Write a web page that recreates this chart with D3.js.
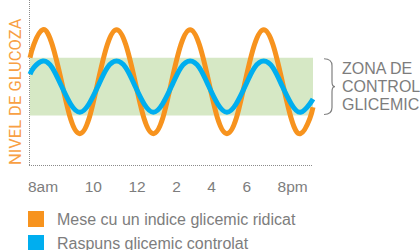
<!DOCTYPE html>
<html>
<head>
<meta charset="utf-8">
<script src="https://cdn.jsdelivr.net/npm/d3@7"></script>
<style>
  html, body { margin: 0; padding: 0; background: #fff; }
  svg { display: block; font-family: "Liberation Sans", Arial, Helvetica, sans-serif; }
</style>
</head>
<body>
<svg id="chart" width="420" height="250"></svg>
<script>
// hours of day (8 = 8am, 20 = 8pm)
const hours = [8.00, 8.16, 8.55, 8.94, 9.33, 9.72, 10.11, 10.50, 10.89, 11.28, 11.67,
  12.06, 12.45, 12.84, 13.23, 13.62, 14.01, 14.40, 14.79, 15.18, 15.57, 15.96,
  16.35, 16.74, 17.13, 17.52, 17.91, 18.30, 18.69, 19.08, 19.47, 19.86, 20.00];

// glucose level (arbitrary units 0-100)
const highGI = [65, 73, 82, 73, 51, 28, 19, 28, 51, 73, 82, 73, 51, 28, 19, 28, 51,
  73, 82, 73, 51, 28, 19, 28, 51, 73, 82, 73, 51, 28, 19, 28, 35];
const controlled = [55, 59, 63, 59, 48, 37, 32, 37, 48, 59, 63, 59, 48, 37, 32, 37, 48,
  59, 63, 59, 48, 37, 32, 37, 48, 59, 63, 59, 48, 37, 32, 37, 40];

const zone = [30, 65];
const tickLabels = ['8am', '10', '12', '2', '4', '6', '8pm'];
const seriesNames = ['Mese cu un indice glicemic ridicat', 'Raspuns glicemic controlat'];
const seriesColors = ['#f7931e', '#00aeef'];
const zoneLabel = ['ZONA DE', 'CONTROL', 'GLICEMIC'];
const yTitle = 'NIVEL DE GLUCOZA';

const textGrey = '#7d7d7d';
const svg = d3.select('#chart');
const plotLeft = 30, plotRight = 313, plotTop = 0, plotBottom = 165;

const x = d3.scaleLinear().domain([8, 20]).range([plotLeft, plotRight]);
const y = d3.scaleLinear().domain([0, 100]).range([plotBottom, plotTop]);

// zone band
svg.append('rect')
  .attr('x', plotLeft)
  .attr('y', y(zone[1]))
  .attr('width', plotRight - plotLeft)
  .attr('height', y(zone[0]) - y(zone[1]))
  .attr('fill', '#d6e8c5');

// axes (dotted)
svg.append('line')
  .attr('x1', 29.5).attr('x2', 29.5)
  .attr('y1', 0).attr('y2', plotBottom + 0.5)
  .attr('stroke', '#8a8a8a').attr('stroke-width', 1)
  .attr('stroke-dasharray', '1,1');
svg.append('line')
  .attr('x1', 29).attr('x2', plotRight)
  .attr('y1', plotBottom + 0.5).attr('y2', plotBottom + 0.5)
  .attr('stroke', '#8a8a8a').attr('stroke-width', 1)
  .attr('stroke-dasharray', '1,1');

// curves
const line = d3.line()
  .x((d, i) => x(hours[i]))
  .y(d => y(d))
  .curve(d3.curveNatural);

[highGI, controlled].forEach((series, i) => {
  svg.append('path')
    .datum(series)
    .attr('d', line)
    .attr('fill', 'none')
    .attr('stroke', seriesColors[i])
    .attr('stroke-width', 5)
    .attr('stroke-linecap', 'butt');
});

// y title
svg.append('text')
  .attr('transform', `translate(21,${plotBottom}) rotate(-90)`)
  .attr('fill', '#f8a043')
  .style('font-family', 'Roboto, sans-serif')
  .style('font-size', '16.5px')
  .text(yTitle);

// x tick labels, laid out left to right with a fixed gap
const tickG = svg.append('g').attr('fill', textGrey).style('font-size', '15.5px');
let cursor = 28;
tickLabels.forEach(t => {
  const node = tickG.append('text')
    .attr('x', cursor)
    .attr('y', 192)
    .text(t);
  cursor += node.node().getComputedTextLength() + 26.5;
});

// brace
const bTop = y(zone[1]), bBot = y(zone[0]), bMid = (bTop + bBot) / 2;
const bx = 324;
svg.append('path')
  .attr('d', `M${bx},${bTop + 1} Q${bx + 8},${bTop + 1} ${bx + 8},${bTop + 8}
    L${bx + 8},${bMid - 5} Q${bx + 8},${bMid} ${bx + 11},${bMid}
    Q${bx + 8},${bMid} ${bx + 8},${bMid + 5}
    L${bx + 8},${bBot - 8} Q${bx + 8},${bBot - 1} ${bx},${bBot - 1}`)
  .attr('fill', 'none')
  .attr('stroke', '#808080')
  .attr('stroke-width', 1.2);

svg.append('g')
  .attr('fill', textGrey)
  .style('font-size', '16px')
  .selectAll('text')
  .data(zoneLabel)
  .join('text')
  .attr('x', 342)
  .attr('y', (d, i) => 74 + i * 18)
  .text(d => d);

// legend
const legend = svg.append('g')
  .selectAll('g')
  .data(seriesNames)
  .join('g')
  .attr('transform', (d, i) => `translate(28,${211 + i * 24})`);

legend.append('rect')
  .attr('width', 16).attr('height', 16)
  .attr('fill', (d, i) => seriesColors[i]);

legend.append('text')
  .attr('x', 29)
  .attr('y', 14)
  .attr('fill', textGrey)
  .style('font-size', '16px')
  .text(d => d);
</script>
</body>
</html>
